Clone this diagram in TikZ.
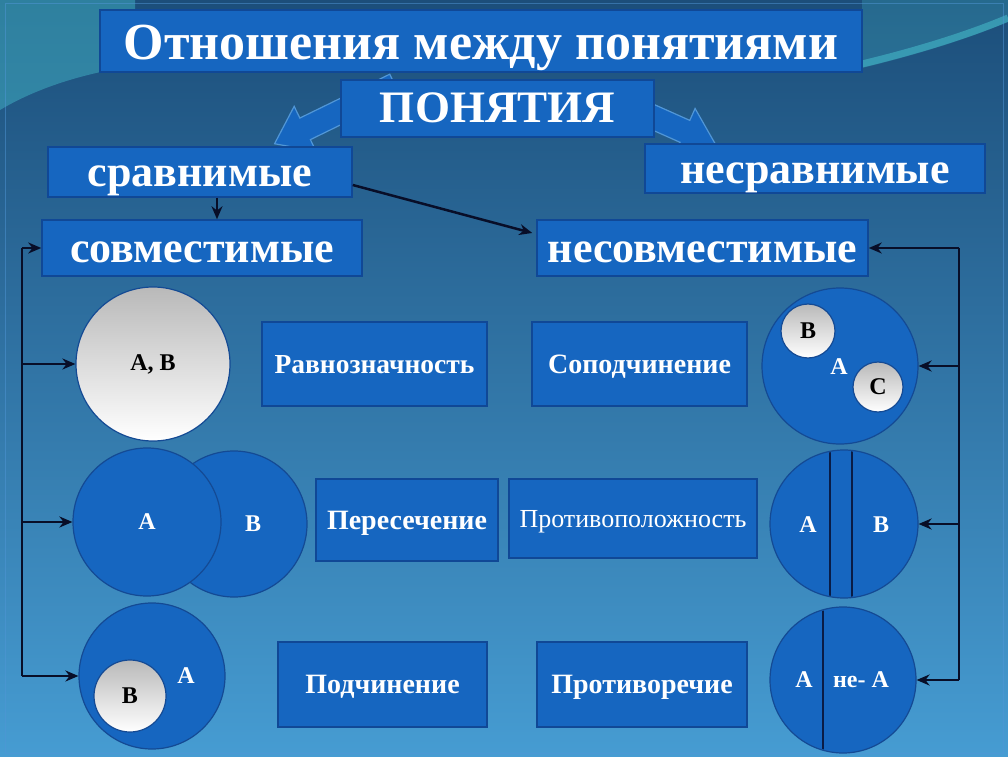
\documentclass[tikz,border=0pt]{standalone}
\usepackage{fontspec}
\setmainfont{Liberation Serif}
\usepackage{xcolor}
\usepackage{tikz}
\usetikzlibrary{arrows.meta}

\definecolor{bgtop}{RGB}{28,78,122}
\definecolor{bgbot}{RGB}{70,156,210}
\definecolor{swoosh}{RGB}{70,190,205}
\definecolor{boxblue}{RGB}{22,102,192}
\definecolor{boxline}{RGB}{16,72,150}
\definecolor{circline}{RGB}{20,74,148}
\definecolor{arrowedge}{RGB}{80,150,215}
\definecolor{divline}{RGB}{10,28,70}
\definecolor{connblack}{RGB}{8,14,40}

\newcommand{\fsz}[1]{\fontsize{#1}{#1}\selectfont}

\tikzset{
  box/.style={draw=boxline, fill=boxblue, line width=1.5pt, inner sep=0pt, text=white,
    text depth=0pt},
  circ/.style={circle, draw=circline, fill=boxblue, line width=1.2pt, inner sep=0pt,
    text=white, font=\fsz{24}\bfseries},
  graycirc/.style={circle, draw=circline, top color=gray!55, bottom color=white,
    line width=1.2pt, inner sep=0pt, text=black, font=\fsz{24}\bfseries},
  lbl/.style={text=white, font=\fsz{24}\bfseries, inner sep=0pt},
  conn/.style={-{Stealth[length=13pt,width=11pt]}, line width=2.5pt, connblack},
  rail/.style={line width=2.5pt, connblack},
  blockarrow/.style={fill=boxblue, draw=arrowedge, line width=1.2pt}
}

\begin{document}
\begin{tikzpicture}[x=1pt,y=1pt]
  % Фон
  \useasboundingbox (0,0) rectangle (1008,756);
  \fill[top color=bgtop, bottom color=bgbot] (0,0) rectangle (1008,756);
  \fill[swoosh, opacity=.45] (0,646) .. controls (40,670) and (90,684) .. (135,690) -- (135,756) -- (0,756) -- cycle;
  \fill[swoosh, opacity=.25] (862,688) .. controls (920,702) and (970,718) .. (1008,734) -- (1008,756) -- (862,756) -- cycle;
  \draw[swoosh, opacity=.55, line width=7pt] (862,692) .. controls (920,706) and (970,722) .. (1008,738);
  \draw[arrowedge, opacity=.5, line width=1pt] (5,3) rectangle (1003,752);

  % Блочные стрелки от "ПОНЯТИЯ"
  \begin{scope}[shift={(395,671)}, rotate=206]
    \filldraw[blockarrow] (0,-12) -- (100,-12) -- (100,-25) -- (134,0) -- (100,25) -- (100,12) -- (0,12) -- cycle;
  \end{scope}
  \begin{scope}[shift={(610,658)}, rotate=-24]
    \filldraw[blockarrow] (0,-12) -- (82,-12) -- (82,-25) -- (116,0) -- (82,25) -- (82,12) -- (0,12) -- cycle;
  \end{scope}

  % Заголовки
  \node[box, minimum width=762, minimum height=62, font=\fsz{52}\bfseries, text height=38pt] (title) at (481,715) {Отношения между понятиями};
  \node[box, minimum width=313, minimum height=57, font=\fsz{45}\bfseries, text height=29pt] (pon) at (497.5,647.5) {ПОНЯТИЯ};
  \node[box, minimum width=304, minimum height=50, font=\fsz{44}\bfseries, text height=30pt] (sravn) at (200,584) {сравнимые};
  \node[box, minimum width=340, minimum height=49, font=\fsz{44}\bfseries, text height=30pt] (nesravn) at (815,587.5) {несравнимые};
  \node[box, minimum width=320, minimum height=56, font=\fsz{44}\bfseries, text height=30pt] (sovm) at (202,508) {совместимые};
  \node[box, minimum width=331, minimum height=56, font=\fsz{44}\bfseries, text height=30pt] (nesovm) at (702.5,508) {несовместимые};

  % Виды отношений
  \node[box, minimum width=225, minimum height=84, font=\fsz{27.5}\bfseries, text height=18pt] (ravn) at (374.5,392) {Равнозначность};
  \node[box, minimum width=182, minimum height=82, font=\fsz{28}\bfseries, text height=18pt] (peres) at (407,236) {Пересечение};
  \node[box, minimum width=209, minimum height=85, font=\fsz{28}\bfseries, text height=18pt] (podch) at (382.5,71.5) {Подчинение};
  \node[box, minimum width=215, minimum height=84, font=\fsz{28}\bfseries, text height=18pt] (sopodch) at (639.5,392) {Соподчинение};
  \node[box, minimum width=248, minimum height=79, font=\fsz{26}, text height=17pt] (protivop) at (633,237.5) {Противоположность};
  \node[box, minimum width=210, minimum height=85, font=\fsz{28}\bfseries, text height=18pt] (protivor) at (642,71.5) {Противоречие};

  % Круги: совместимые
  \node[graycirc, minimum size=154] (cAB) at (153,392) {А, В};
  \node[circ, minimum size=146] (cB2) at (234,232) {};
  \node[circ, minimum size=148] (cA2) at (147,234) {А};
  \node[lbl] at (253,232) {В};
  \node[circ, minimum size=146] (cA3) at (152,80) {};
  \node[graycirc, minimum size=72] (cB3) at (130,60) {В};
  \node[lbl] at (186,80) {А};

  % Круги: несовместимые
  \node[circ, minimum size=156] (cA4) at (840,390) {};
  \node[graycirc, minimum size=54] (cB4) at (808,425) {В};
  \node[graycirc, minimum size=50] (cC4) at (878,369) {С};
  \node[lbl] at (839,389) {А};
  \node[circ, minimum size=148] (cA5) at (844,232) {};
  \begin{scope}
    \clip (844,232) circle (73);
    \draw[divline, line width=1.2pt] (830,150) -- (830,320);
    \draw[divline, line width=1.2pt] (852,150) -- (852,320);
  \end{scope}
  \node[lbl] at (808,231) {А};
  \node[lbl] at (881,231) {В};
  \node[circ, minimum size=146] (cA6) at (843,76) {};
  \begin{scope}
    \clip (843,76) circle (72);
    \draw[divline, line width=1.2pt] (823,0) -- (823,160);
  \end{scope}
  \node[lbl] at (804,76) {А};
  \node[lbl] at (861,76) {не- А};

  % Соединители
  \draw[conn] ([xshift=17pt]sravn.south) -- ([xshift=17pt]sravn.south |- sovm.north);
  \draw[conn] ([yshift=-13pt]sravn.east) -- ([xshift=-4pt,yshift=15pt]nesovm.west);

  \coordinate (L) at (22,0);
  \draw[conn] (L |- sovm.west) -- (sovm.west);
  \draw[rail] (L |- sovm.west) -- (L |- cA3.west);
  \draw[conn] (L |- cAB.west) -- (cAB.west);
  \draw[conn] (L |- cA2.west) -- (cA2.west);
  \draw[conn] (L |- cA3.west) -- (cA3.west);

  \coordinate (R) at (959,0);
  \draw[conn] (R |- nesovm.east) -- (nesovm.east);
  \draw[rail] (R |- nesovm.east) -- (R |- cA6.east);
  \draw[conn] (R |- cA4.east) -- (cA4.east);
  \draw[conn] (R |- cA5.east) -- (cA5.east);
  \draw[conn] (R |- cA6.east) -- (cA6.east);
\end{tikzpicture}
\end{document}
